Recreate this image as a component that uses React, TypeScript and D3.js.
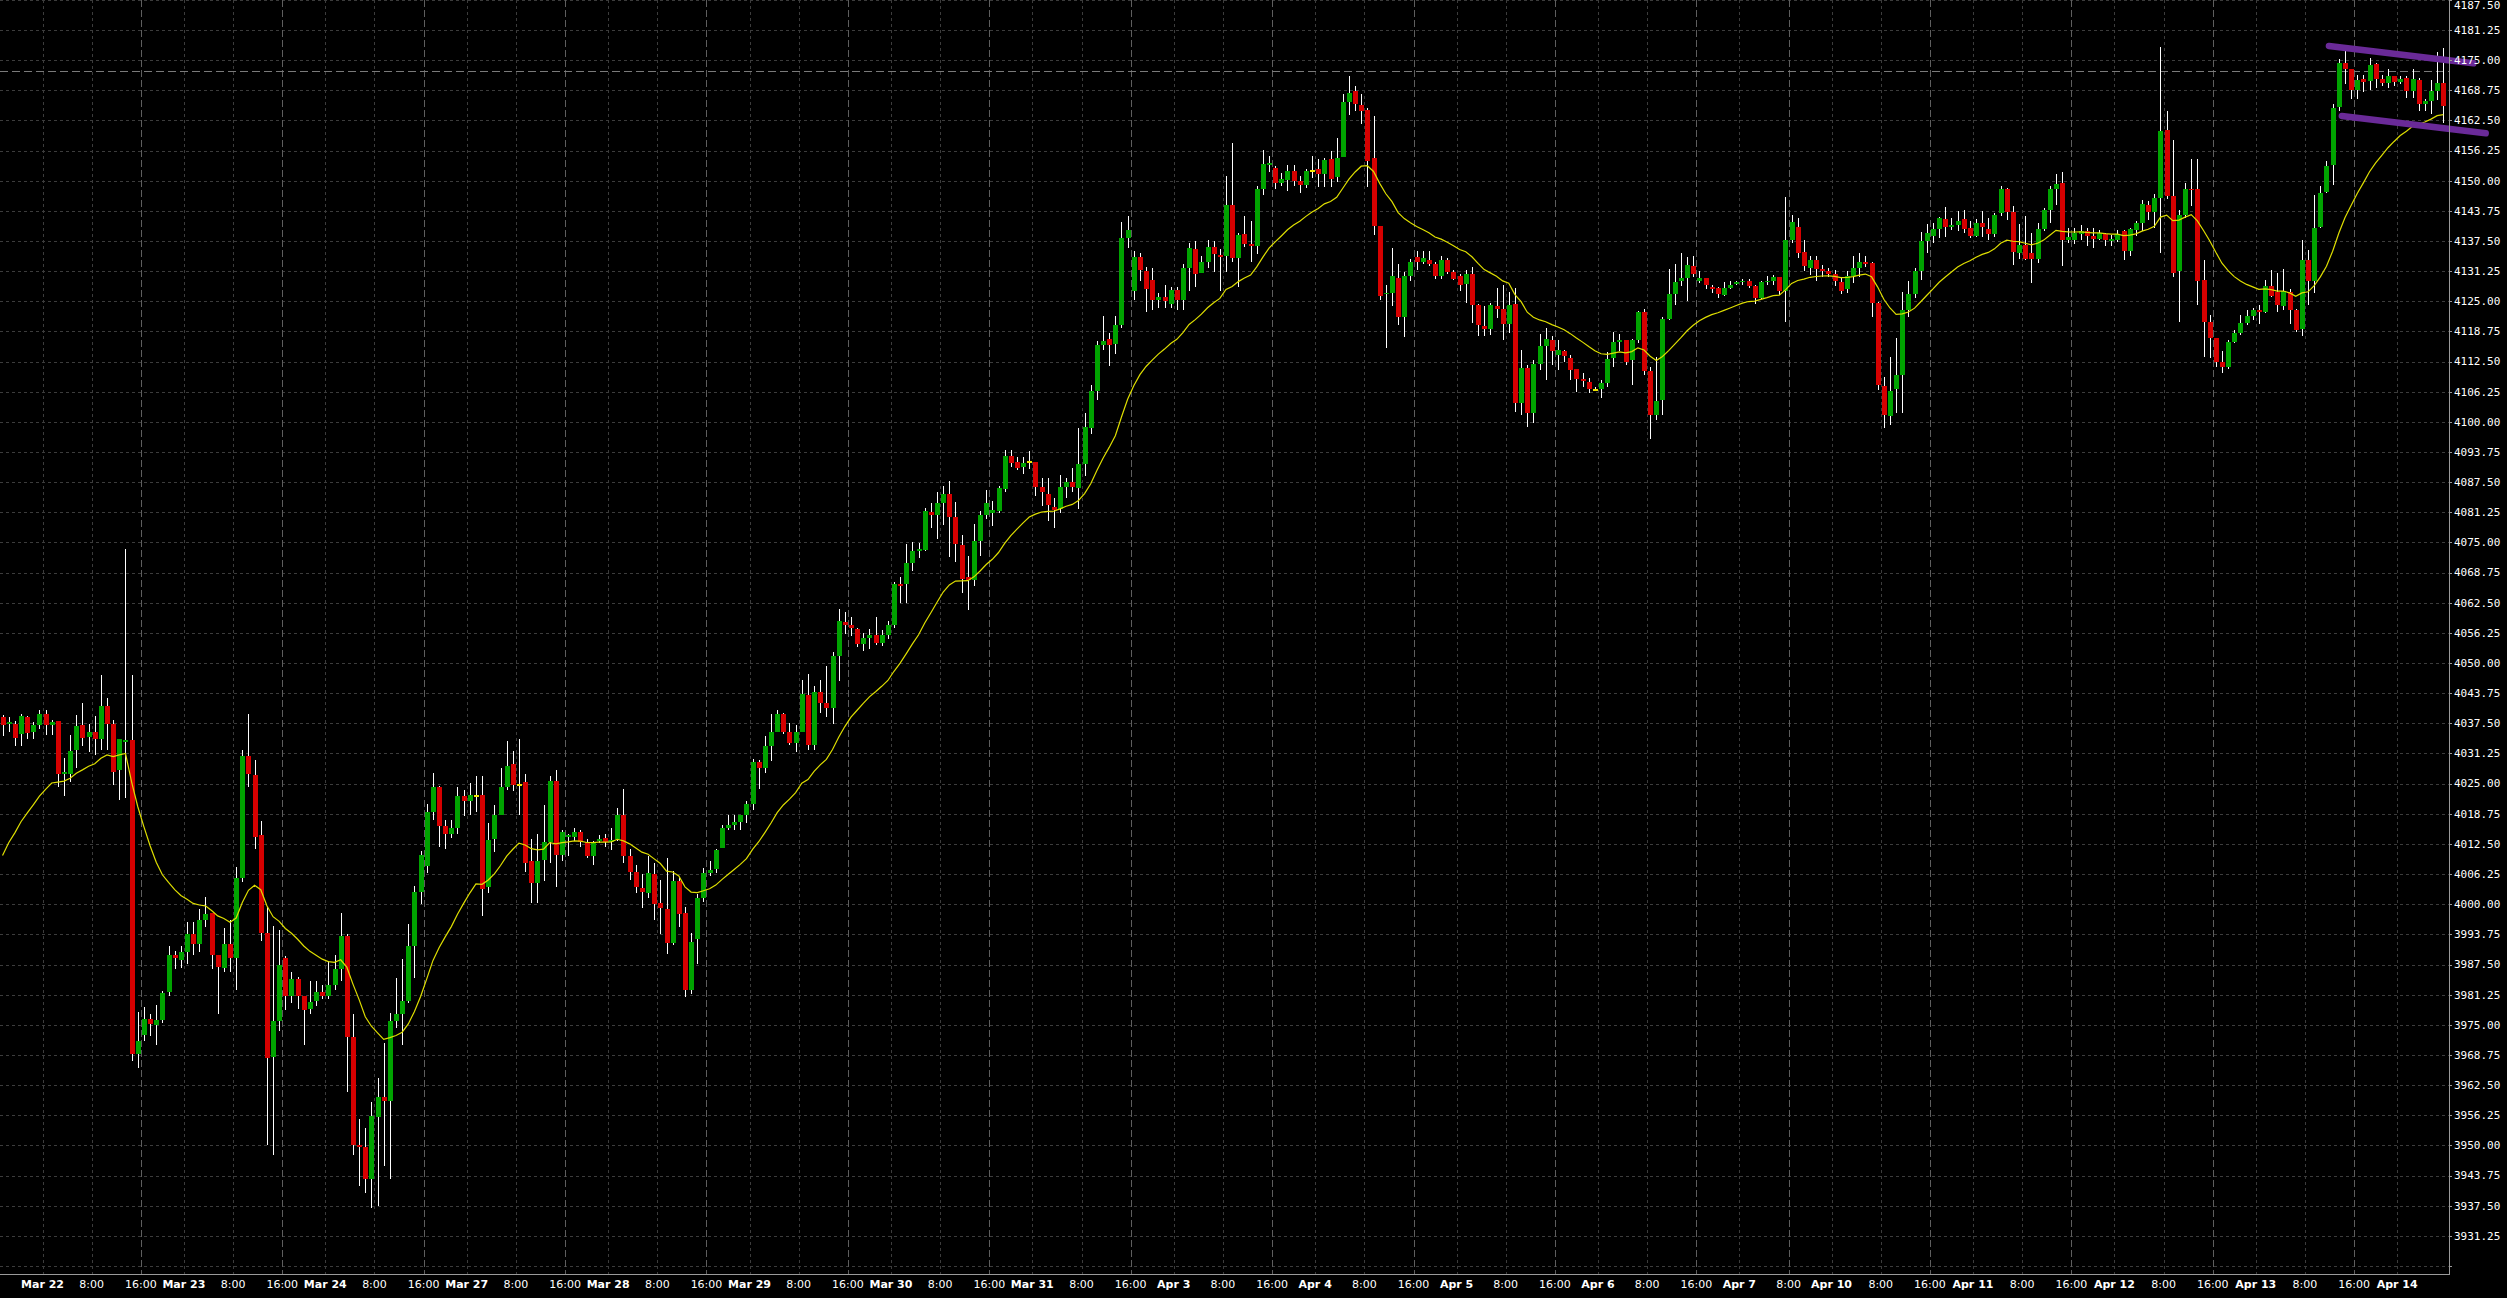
import React from 'react';
import * as d3 from 'd3';

type Bar = [number, number, number, number]; // open, high, low, close

const mar21: Bar[] = [
  [4038.8, 4039.2, 4034.9, 4037.2], [4037.4, 4038.8, 4035.8, 4037.8], [4037.4, 4038.0, 4032.7, 4034.4],
  [4035.2, 4039.4, 4032.8, 4039.0], [4038.8, 4039.0, 4034.2, 4035.6], [4035.7, 4037.7, 4034.2, 4037.2],
  [4037.2, 4040.3, 4036.3, 4039.4],
];
const mar22: Bar[] = [
  [4039.4, 4040.2, 4035.1, 4037.1], [4037.1, 4038.1, 4035.0, 4037.8], [4038.0, 4038.0, 4024.4, 4027.1],
  [4026.9, 4030.3, 4022.5, 4027.4], [4027.1, 4035.1, 4025.3, 4031.8], [4031.9, 4039.2, 4028.3, 4037.0],
  [4037.1, 4041.7, 4032.9, 4034.5], [4034.7, 4037.4, 4031.5, 4035.7], [4035.7, 4039.0, 4031.0, 4034.2],
  [4034.2, 4047.5, 4031.9, 4041.1], [4041.1, 4042.7, 4031.9, 4037.4], [4037.4, 4038.1, 4024.8, 4027.4],
  [4027.8, 4034.2, 4021.6, 4034.2], [4033.7, 4073.6, 4022.1, 4034.0], [4034.0, 4047.5, 3967.6, 3969.0],
  [3969.0, 3977.7, 3966.1, 3971.7], [3972.9, 3978.6, 3971.7, 3976.3], [3976.3, 3977.2, 3972.7, 3975.1],
  [3975.0, 3979.2, 3970.9, 3976.0], [3976.0, 3982.0, 3975.4, 3981.6], [3981.8, 3991.4, 3981.0, 3989.4],
  [3989.4, 3990.4, 3986.6, 3988.9], [3988.4, 3991.4, 3986.8, 3990.2],
];
const mar23: Bar[] = [
  [3990.2, 3996.4, 3987.7, 3993.8], [3993.8, 3996.4, 3989.5, 3991.8], [3991.8, 3999.1, 3990.2, 3996.8],
  [3996.8, 4001.4, 3995.2, 3997.9], [3998.2, 3998.2, 3986.6, 3989.5], [3989.5, 3989.5, 3977.2, 3987.0],
  [3986.8, 3995.0, 3985.9, 3991.8], [3991.8, 3996.8, 3985.9, 3988.9], [3988.9, 4007.8, 3982.2, 4005.5],
  [4005.5, 4032.0, 4004.6, 4030.8], [4030.8, 4039.4, 4024.2, 4027.1], [4026.7, 4029.8, 4011.4, 4014.0],
  [4014.3, 4017.3, 3992.3, 3994.1], [3994.1, 3999.5, 3950.0, 3968.1], [3968.4, 3995.5, 3948.1, 3975.8],
  [3975.8, 3994.6, 3973.8, 3987.4], [3988.8, 3989.3, 3978.1, 3980.9], [3980.9, 3985.9, 3979.5, 3984.5],
  [3984.5, 3985.0, 3978.3, 3980.9], [3980.9, 3981.0, 3970.8, 3978.1], [3978.3, 3984.1, 3977.2, 3979.7],
  [3979.9, 3984.1, 3979.0, 3981.8], [3981.9, 3983.2, 3980.4, 3980.9],
];
const mar24: Bar[] = [
  [3980.9, 3988.2, 3980.4, 3983.3], [3983.3, 3989.5, 3982.2, 3986.6], [3986.6, 3998.2, 3984.1, 3993.4],
  [3993.4, 3993.8, 3961.0, 3972.4], [3972.4, 3977.2, 3948.0, 3950.1], [3950.1, 3955.5, 3941.6, 3949.6],
  [3949.6, 3953.6, 3940.2, 3943.0], [3943.0, 3959.0, 3937.0, 3956.0], [3955.8, 3964.0, 3937.4, 3960.1],
  [3960.1, 3971.3, 3945.7, 3959.2], [3959.2, 3977.4, 3943.0, 3975.8], [3975.8, 3984.7, 3974.4, 3977.2],
  [3977.2, 3988.6, 3970.8, 3979.9], [3979.9, 3995.9, 3979.5, 3991.4], [3991.4, 4003.7, 3984.7, 4002.5],
  [4002.5, 4011.1, 4000.0, 4010.3], [4008.0, 4020.7, 4006.4, 4019.2], [4019.2, 4027.2, 4017.4, 4024.2],
  [4024.2, 4024.6, 4011.9, 4016.3], [4016.3, 4017.4, 4011.4, 4014.6], [4014.6, 4017.5, 4013.7, 4015.7],
  [4015.7, 4024.2, 4014.6, 4022.4], [4022.4, 4023.7, 4018.3, 4021.5],
];
const mar27: Bar[] = [
  [4021.3, 4025.1, 4018.4, 4022.6], [4022.4, 4026.5, 4019.2, 4022.4], [4022.6, 4026.6, 3997.5, 4003.2],
  [4003.5, 4016.9, 4002.3, 4013.4], [4013.5, 4020.6, 4010.9, 4018.5], [4018.5, 4028.2, 4018.4, 4024.4],
  [4024.2, 4033.8, 4023.6, 4028.6], [4029.0, 4031.7, 4023.4, 4024.8], [4024.8, 4034.3, 4018.4, 4024.8],
  [4025.3, 4026.9, 4006.6, 4008.5], [4008.9, 4013.5, 4000.3, 4004.3], [4004.3, 4014.6, 4000.3, 4009.0],
  [4009.2, 4020.6, 4004.9, 4012.8], [4012.8, 4026.6, 4008.5, 4025.6], [4025.6, 4027.8, 4003.5, 4010.2],
  [4010.2, 4015.4, 4008.9, 4015.0], [4013.9, 4014.6, 4010.0, 4014.4], [4013.9, 4015.8, 4013.1, 4015.0],
  [4015.0, 4015.4, 4011.9, 4012.9], [4012.9, 4013.5, 4009.6, 4010.0], [4010.0, 4013.1, 4008.1, 4012.7],
  [4013.2, 4014.4, 4012.7, 4013.6], [4013.7, 4014.6, 4011.9, 4012.9],
];
const mar28: Bar[] = [
  [4012.9, 4015.8, 4011.2, 4013.4], [4013.5, 4020.0, 4013.1, 4018.6], [4018.6, 4023.8, 4008.5, 4010.0],
  [4010.0, 4011.5, 4005.0, 4006.7], [4006.6, 4008.1, 4002.3, 4003.6], [4003.3, 4006.2, 3999.2, 4002.5],
  [4002.3, 4010.0, 4001.2, 4006.4], [4006.2, 4008.5, 3996.7, 4000.1], [4000.3, 4005.1, 3993.9, 3999.3],
  [3999.0, 4009.6, 3989.6, 3991.9], [3991.9, 4006.8, 3991.5, 4004.9], [4004.9, 4005.7, 3995.3, 3998.0],
  [3998.2, 3999.4, 3980.8, 3982.3], [3982.3, 3994.0, 3981.3, 3992.2], [3992.7, 4002.1, 3987.6, 4001.3],
  [4001.3, 4007.5, 4000.4, 4006.4], [4006.4, 4008.9, 4005.8, 4007.1], [4007.2, 4011.5, 4006.4, 4011.2],
  [4011.6, 4016.5, 4011.6, 4015.9], [4015.9, 4018.6, 4015.3, 4016.4], [4016.4, 4018.5, 4015.3, 4017.0],
  [4017.0, 4018.6, 4015.3, 4018.4], [4018.4, 4021.3, 4016.9, 4020.7],
];
const mar29: Bar[] = [
  [4020.7, 4030.2, 4019.6, 4029.4], [4029.4, 4030.0, 4023.8, 4028.2], [4028.2, 4034.9, 4027.3, 4032.9],
  [4032.9, 4039.5, 4029.6, 4035.7], [4035.7, 4040.3, 4035.7, 4039.4], [4039.4, 4039.7, 4035.3, 4035.7],
  [4035.7, 4037.6, 4033.0, 4033.4], [4033.4, 4037.2, 4031.5, 4035.8], [4035.8, 4046.4, 4035.7, 4043.5],
  [4043.4, 4047.7, 4031.9, 4033.0], [4033.0, 4045.3, 4032.0, 4043.9], [4043.9, 4046.4, 4039.6, 4041.7],
  [4041.7, 4049.4, 4038.8, 4040.7], [4040.7, 4052.2, 4037.3, 4051.5], [4051.5, 4061.2, 4046.3, 4058.8],
  [4058.6, 4060.6, 4056.0, 4057.9], [4057.9, 4059.6, 4055.6, 4057.2], [4057.0, 4057.2, 4053.3, 4053.9],
  [4053.9, 4056.3, 4052.4, 4055.2], [4055.2, 4057.0, 4052.9, 4055.8], [4055.8, 4059.6, 4053.7, 4054.2],
  [4054.2, 4056.8, 4053.5, 4055.8], [4055.8, 4058.7, 4054.9, 4057.9],
];
const mar30: Bar[] = [
  [4057.9, 4066.8, 4057.2, 4066.4], [4066.4, 4067.9, 4062.5, 4066.0], [4066.4, 4074.6, 4062.5, 4070.7],
  [4070.7, 4075.0, 4069.0, 4073.3], [4073.3, 4074.8, 4071.7, 4073.7], [4073.5, 4082.1, 4073.3, 4081.6],
  [4081.3, 4083.2, 4078.0, 4080.6], [4080.6, 4085.5, 4075.7, 4083.1], [4083.1, 4086.7, 4078.6, 4085.0],
  [4085.0, 4087.7, 4071.9, 4080.2], [4080.2, 4083.4, 4071.0, 4074.6], [4074.4, 4076.5, 4064.5, 4067.5],
  [4067.9, 4072.1, 4061.0, 4067.3], [4067.3, 4078.8, 4066.0, 4075.4], [4075.4, 4081.6, 4072.1, 4080.7],
  [4080.7, 4085.8, 4079.8, 4083.1], [4081.2, 4083.5, 4078.4, 4081.8], [4081.6, 4086.7, 4081.2, 4086.3],
  [4086.0, 4094.2, 4085.5, 4092.9], [4092.9, 4094.2, 4090.7, 4091.5], [4091.6, 4092.7, 4090.0, 4090.5],
  [4090.7, 4092.7, 4089.1, 4091.5], [4091.7, 4093.9, 4090.3, 4091.7],
];
const mar31: Bar[] = [
  [4091.7, 4091.7, 4084.7, 4086.6], [4086.6, 4088.3, 4082.6, 4085.5], [4085.1, 4088.3, 4079.4, 4082.7],
  [4082.4, 4084.3, 4078.0, 4081.8], [4081.9, 4088.9, 4081.2, 4086.6], [4086.6, 4088.3, 4084.3, 4087.6],
  [4087.6, 4090.5, 4085.5, 4086.6], [4086.3, 4098.8, 4081.9, 4091.2], [4091.2, 4101.8, 4088.7, 4099.0],
  [4098.8, 4107.7, 4097.4, 4106.5], [4106.4, 4116.8, 4104.6, 4115.9], [4115.9, 4122.0, 4114.9, 4116.8],
  [4117.1, 4118.4, 4111.5, 4115.9], [4116.1, 4122.0, 4114.1, 4120.0], [4120.0, 4141.4, 4119.4, 4138.1],
  [4138.1, 4142.6, 4136.0, 4139.7], [4127.2, 4135.5, 4125.2, 4134.1], [4134.1, 4135.1, 4129.1, 4131.5],
  [4131.3, 4132.1, 4122.8, 4127.6], [4129.5, 4131.9, 4123.2, 4125.3], [4125.2, 4126.7, 4123.6, 4125.8],
  [4125.8, 4128.3, 4123.6, 4125.1], [4124.4, 4127.9, 4123.6, 4127.3],
];
const apr03: Bar[] = [
  [4127.3, 4127.9, 4123.2, 4125.3], [4125.3, 4132.7, 4123.2, 4131.8], [4131.8, 4137.1, 4127.1, 4136.1],
  [4135.9, 4137.5, 4127.9, 4130.7], [4130.8, 4134.3, 4130.8, 4133.1], [4133.1, 4137.6, 4131.9, 4136.3],
  [4136.3, 4137.5, 4131.1, 4134.7], [4134.5, 4135.9, 4127.2, 4134.1], [4134.3, 4150.9, 4131.1, 4145.0],
  [4145.0, 4157.9, 4133.1, 4133.9], [4133.9, 4139.1, 4127.9, 4138.7], [4138.9, 4142.6, 4136.3, 4136.8],
  [4136.8, 4141.6, 4133.1, 4136.4], [4136.5, 4148.8, 4134.9, 4148.2], [4148.2, 4156.3, 4147.0, 4153.5],
  [4153.2, 4155.2, 4151.7, 4153.6], [4152.7, 4153.1, 4148.2, 4149.5], [4149.5, 4151.6, 4149.0, 4150.3],
  [4150.1, 4153.3, 4147.9, 4152.1], [4152.1, 4153.3, 4149.0, 4150.0], [4150.0, 4151.0, 4147.4, 4149.2],
  [4149.1, 4152.5, 4148.4, 4152.1], [4152.1, 4155.1, 4150.6, 4152.1],
];
const apr04: Bar[] = [
  [4152.5, 4154.5, 4148.6, 4151.3], [4151.3, 4154.7, 4148.6, 4154.3], [4154.5, 4156.1, 4148.6, 4150.3],
  [4150.8, 4158.9, 4149.8, 4154.7], [4154.9, 4168.0, 4154.9, 4166.4], [4166.4, 4171.8, 4163.6, 4168.2],
  [4168.6, 4169.6, 4164.4, 4165.9], [4165.6, 4168.0, 4161.7, 4164.4], [4164.6, 4165.1, 4148.6, 4154.1],
  [4154.7, 4163.4, 4138.7, 4140.6], [4140.6, 4140.6, 4125.2, 4126.0], [4126.5, 4128.3, 4115.4, 4126.8],
  [4126.8, 4136.1, 4124.0, 4130.2], [4129.9, 4132.7, 4120.0, 4121.8], [4121.8, 4131.1, 4117.5, 4130.3],
  [4130.3, 4133.7, 4129.1, 4133.1], [4134.1, 4135.5, 4131.5, 4133.1], [4133.1, 4135.5, 4132.7, 4133.9],
  [4133.6, 4135.5, 4132.3, 4132.7], [4132.7, 4133.1, 4129.7, 4130.2], [4130.2, 4134.3, 4129.7, 4133.6],
  [4133.6, 4133.9, 4130.7, 4131.1], [4131.1, 4131.5, 4129.5, 4129.7],
];
const apr05: Bar[] = [
  [4130.2, 4130.7, 4127.2, 4128.4], [4128.6, 4131.5, 4124.6, 4130.7], [4130.7, 4132.1, 4120.4, 4124.3],
  [4124.3, 4124.4, 4117.7, 4120.0], [4119.8, 4124.0, 4117.7, 4119.3], [4119.3, 4124.6, 4118.0, 4124.3],
  [4124.1, 4127.7, 4121.5, 4123.4], [4123.4, 4128.4, 4116.9, 4120.3], [4120.3, 4127.0, 4118.4, 4124.3],
  [4124.5, 4127.7, 4102.1, 4103.9], [4103.9, 4114.8, 4101.4, 4111.1], [4111.1, 4111.8, 4099.0, 4101.8],
  [4101.9, 4112.8, 4099.8, 4111.9], [4111.9, 4118.2, 4110.7, 4115.7], [4115.7, 4119.4, 4108.7, 4117.1],
  [4117.0, 4117.8, 4111.8, 4114.6], [4113.8, 4116.9, 4110.8, 4114.9], [4114.6, 4114.9, 4112.5, 4113.6],
  [4113.2, 4113.9, 4108.7, 4110.8], [4110.9, 4110.9, 4106.1, 4108.8], [4108.8, 4110.1, 4107.3, 4108.4],
  [4108.3, 4109.0, 4105.9, 4106.8], [4106.7, 4107.3, 4106.3, 4106.7],
];
const apr06: Bar[] = [
  [4106.8, 4108.6, 4104.9, 4108.0], [4108.1, 4114.4, 4107.3, 4113.0], [4113.3, 4118.7, 4111.3, 4116.6],
  [4116.6, 4118.2, 4114.6, 4117.0], [4116.9, 4117.0, 4111.8, 4112.5], [4112.9, 4117.1, 4107.7, 4116.9],
  [4116.9, 4123.0, 4116.3, 4122.7], [4122.7, 4123.4, 4109.7, 4110.6], [4110.6, 4111.3, 4096.4, 4101.4],
  [4101.5, 4113.5, 4100.4, 4104.4], [4104.6, 4121.8, 4101.4, 4121.3], [4121.3, 4131.6, 4121.1, 4126.5],
  [4126.5, 4132.7, 4124.3, 4129.0], [4129.3, 4135.1, 4128.1, 4129.9], [4129.9, 4134.1, 4125.1, 4132.6],
  [4132.4, 4134.3, 4130.1, 4130.7], [4129.1, 4131.2, 4128.8, 4129.8], [4129.9, 4129.9, 4127.5, 4128.4],
  [4128.0, 4128.4, 4126.7, 4127.6], [4127.7, 4127.9, 4125.6, 4126.5], [4126.3, 4128.9, 4126.0, 4127.7],
  [4127.8, 4129.1, 4127.5, 4128.4], [4128.6, 4129.3, 4128.3, 4128.9],
];
const apr07: Bar[] = [
  [4129.0, 4129.7, 4128.3, 4129.3], [4129.1, 4129.7, 4127.7, 4128.1], [4128.1, 4128.4, 4124.5, 4125.7],
  [4125.7, 4129.1, 4125.4, 4128.9], [4129.0, 4130.3, 4128.3, 4129.3], [4129.3, 4130.4, 4128.3, 4130.1],
  [4130.1, 4130.1, 4126.3, 4127.1], [4127.1, 4146.7, 4120.8, 4137.7], [4137.7, 4142.9, 4137.0, 4141.5],
  [4140.4, 4142.2, 4133.9, 4135.1], [4135.3, 4137.7, 4131.2, 4132.3], [4132.0, 4134.3, 4130.5, 4133.6],
  [4133.6, 4134.3, 4129.3, 4131.7], [4131.7, 4132.6, 4130.1, 4131.2], [4131.2, 4131.9, 4130.1, 4130.7],
];
const apr10: Bar[] = [
  [4130.7, 4131.5, 4128.1, 4129.1], [4129.0, 4130.1, 4126.5, 4127.2], [4127.6, 4131.2, 4126.7, 4130.3],
  [4130.3, 4134.3, 4128.8, 4132.0], [4132.0, 4135.1, 4130.1, 4133.2], [4133.2, 4134.4, 4132.2, 4132.8],
  [4132.9, 4133.1, 4121.8, 4124.6], [4124.6, 4124.9, 4106.6, 4107.7], [4107.5, 4109.4, 4098.7, 4101.5],
  [4101.3, 4113.5, 4099.4, 4106.4], [4106.9, 4117.4, 4101.9, 4109.8], [4109.8, 4126.9, 4101.9, 4123.2],
  [4123.2, 4129.3, 4121.8, 4126.5], [4126.5, 4131.9, 4125.6, 4131.2], [4131.2, 4139.3, 4129.5, 4137.5],
  [4137.5, 4141.0, 4135.0, 4139.1], [4138.5, 4141.2, 4137.0, 4139.9], [4139.9, 4142.4, 4138.1, 4142.2],
  [4142.0, 4144.5, 4138.3, 4140.5], [4140.5, 4142.2, 4139.8, 4140.8], [4140.8, 4143.8, 4139.5, 4141.7],
  [4142.1, 4143.9, 4139.1, 4140.0], [4140.2, 4141.6, 4138.1, 4138.6],
];
const apr11: Bar[] = [
  [4138.6, 4142.0, 4138.3, 4141.2], [4141.2, 4143.8, 4138.4, 4140.3], [4140.0, 4142.3, 4137.6, 4139.0],
  [4139.0, 4143.4, 4138.3, 4142.9], [4143.3, 4149.0, 4142.6, 4148.2], [4148.2, 4148.5, 4141.9, 4143.6],
  [4143.6, 4144.8, 4132.6, 4135.3], [4135.1, 4141.1, 4133.7, 4136.7], [4136.7, 4142.6, 4133.6, 4133.7],
  [4135.0, 4139.2, 4128.8, 4133.7], [4133.7, 4141.2, 4132.9, 4140.0], [4140.0, 4144.3, 4139.5, 4144.0],
  [4144.0, 4149.0, 4141.2, 4148.2], [4148.2, 4151.3, 4145.0, 4149.4], [4149.5, 4151.8, 4132.4, 4137.6],
  [4137.8, 4140.2, 4137.1, 4138.3], [4137.6, 4140.2, 4136.9, 4139.1], [4139.0, 4140.9, 4137.8, 4139.5],
  [4139.5, 4140.2, 4136.4, 4138.6], [4138.6, 4140.2, 4136.0, 4138.0], [4138.0, 4139.8, 4137.8, 4139.1],
  [4139.0, 4139.1, 4136.4, 4137.6], [4137.4, 4138.8, 4136.4, 4137.9],
];
const apr12: Bar[] = [
  [4137.8, 4139.7, 4137.2, 4139.0], [4139.6, 4139.7, 4133.6, 4135.5], [4135.5, 4140.2, 4134.3, 4140.0],
  [4139.8, 4141.6, 4138.5, 4141.2], [4141.2, 4146.0, 4139.5, 4145.1], [4144.9, 4145.7, 4141.9, 4143.6],
  [4143.6, 4147.2, 4140.2, 4146.5], [4146.5, 4177.8, 4135.0, 4160.4], [4160.6, 4164.4, 4146.1, 4146.8],
  [4146.8, 4158.5, 4130.1, 4130.8], [4131.2, 4144.0, 4120.8, 4142.8], [4142.8, 4149.5, 4142.3, 4148.3],
  [4148.3, 4154.5, 4144.7, 4148.0], [4148.2, 4154.5, 4124.2, 4129.3], [4129.4, 4133.6, 4113.5, 4120.8],
  [4120.8, 4122.2, 4113.2, 4117.3], [4117.3, 4117.3, 4111.3, 4112.5], [4112.5, 4114.6, 4110.1, 4111.4],
  [4111.4, 4117.0, 4110.9, 4116.6], [4116.6, 4119.1, 4116.3, 4118.4], [4118.4, 4122.2, 4118.0, 4120.4],
  [4120.4, 4123.2, 4120.0, 4121.9], [4121.9, 4123.6, 4121.2, 4123.2],
];
const apr13: Bar[] = [
  [4123.2, 4124.3, 4120.3, 4122.7], [4122.7, 4129.5, 4122.5, 4128.2], [4128.2, 4131.4, 4125.9, 4126.1],
  [4127.0, 4130.9, 4122.7, 4124.3], [4124.0, 4131.6, 4123.2, 4127.2], [4127.0, 4127.5, 4120.3, 4123.1],
  [4123.1, 4123.4, 4118.7, 4119.1], [4119.2, 4137.8, 4117.7, 4133.6], [4133.6, 4135.7, 4124.3, 4129.1],
  [4129.1, 4147.1, 4126.7, 4140.2], [4140.5, 4148.8, 4140.2, 4147.5], [4147.6, 4154.0, 4147.5, 4153.1],
  [4153.3, 4165.8, 4149.2, 4165.1], [4165.3, 4175.3, 4164.4, 4174.3], [4174.5, 4176.9, 4170.0, 4173.1],
  [4173.2, 4173.2, 4166.9, 4168.9], [4168.9, 4172.0, 4166.9, 4170.9], [4171.0, 4172.0, 4168.4, 4170.5],
  [4170.7, 4175.5, 4168.8, 4173.9], [4174.1, 4174.3, 4169.3, 4171.0], [4171.0, 4172.0, 4169.6, 4170.3],
  [4170.3, 4173.1, 4169.3, 4171.7], [4171.6, 4171.8, 4169.6, 4170.5],
];
const apr14: Bar[] = [
  [4170.5, 4171.6, 4170.0, 4171.0], [4171.3, 4171.6, 4167.2, 4168.6], [4168.6, 4173.1, 4167.2, 4171.0],
  [4170.8, 4171.3, 4164.4, 4165.8], [4165.8, 4167.0, 4164.4, 4166.5], [4166.5, 4170.8, 4163.9, 4168.6],
  [4168.6, 4176.7, 4166.8, 4170.3], [4170.3, 4177.6, 4162.0, 4165.5],
];

// trading days: label, bars, slot of first bar, slot of session-start (major) line
const days = [
  { label: 'Mar 21', bars: mar21, first: 16, major: 16 },
  { label: 'Mar 22', bars: mar22, first: 0, major: 16 },
  { label: 'Mar 23', bars: mar23, first: 0, major: 16 },
  { label: 'Mar 24', bars: mar24, first: 0, major: 16 },
  { label: 'Mar 27', bars: mar27, first: 0, major: 16 },
  { label: 'Mar 28', bars: mar28, first: 0, major: 16 },
  { label: 'Mar 29', bars: mar29, first: 0, major: 16 },
  { label: 'Mar 30', bars: mar30, first: 0, major: 16 },
  { label: 'Mar 31', bars: mar31, first: 0, major: 16 },
  { label: 'Apr 3', bars: apr03, first: 0, major: 16 },
  { label: 'Apr 4', bars: apr04, first: 0, major: 16 },
  { label: 'Apr 5', bars: apr05, first: 0, major: 16 },
  { label: 'Apr 6', bars: apr06, first: 0, major: 16 },
  { label: 'Apr 7', bars: apr07, first: 0, major: 8 },
  { label: 'Apr 10', bars: apr10, first: 0, major: 16 },
  { label: 'Apr 11', bars: apr11, first: 0, major: 16 },
  { label: 'Apr 12', bars: apr12, first: 0, major: 16 },
  { label: 'Apr 13', bars: apr13, first: 0, major: 16 },
  { label: 'Apr 14', bars: apr14, first: 0, major: 16 },
];
const timeSlots = [
  { slot: 8, text: '8:00' },
  { slot: 16, text: '16:00' },
];

const emaSeed = 4010.1; // moving average value at the first visible bar
const emaPeriod = 20;
const refLevel = 4172.75;
const upperTrend: [number, number][] = [[371.9, 4177.92], [395.4, 4174.33]];
const lowerTrend: [number, number][] = [[374.0, 4163.41], [397.4, 4159.82]];
const priceTickStep = 6.25;

export default function App() {
  const W = 2507;
  const H = 1298;
  const plotR = 2449;
  const plotB = 1274;

  const x = d3.scaleLinear().domain([0, 383]).range([42.5, 42.5 + 383 * 6.148]);
  const y = d3.scaleLinear().domain([3925, 4187.5]).range([1266.0, -0.2]);

  type G = { i: number; b: Bar };
  const bars: G[] = [];
  const grid: { gi: number; major: boolean; text: string; bold: boolean }[] = [];
  let gi = -7;
  days.forEach((d) => {
    const base = gi - d.first;
    const last = d.first + d.bars.length - 1;
    if (d.first === 0) grid.push({ gi: base, major: false, text: d.label, bold: true });
    timeSlots.forEach((t) => {
      if (t.slot >= d.first && t.slot <= last) {
        grid.push({ gi: base + t.slot, major: t.slot === d.major, text: t.text, bold: false });
      }
    });
    d.bars.forEach((b) => {
      bars.push({ i: gi, b });
      gi += 1;
    });
  });

  const alpha = 2 / (emaPeriod + 1);
  const ema: [number, number][] = [];
  let e = emaSeed;
  bars.forEach((g, k) => {
    if (k > 0) e = e + alpha * (g.b[3] - e);
    ema.push([g.i, e]);
  });
  const maPath = d3.line<[number, number]>()
    .x((d) => x(d[0] + 0.5))
    .y((d) => y(d[1]))(ema) || '';

  const priceTicks = d3.range(0, 43).map((k) => 3925 + k * priceTickStep);

  const up = '#00a300';
  const down = '#d60000';

  const trendLine = d3.line<[number, number]>().x((d) => x(d[0])).y((d) => y(d[1]));

  return (
    <svg width={W} height={H} style={{ position: 'absolute', left: 0, top: 0, background: '#000' }}>
      <rect x={0} y={0} width={W} height={H} fill="#000" />
      <g shapeRendering="crispEdges">
        {priceTicks.map((p) => (
          <line key={'h' + p} x1={0} x2={plotR} y1={Math.round(y(p)) + 0.5} y2={Math.round(y(p)) + 0.5}
            stroke="#3c3c3c" strokeDasharray="3,3" />
        ))}
        {grid.map((g, k) => {
          const gx = Math.round(x(g.gi)) + 0.5;
          return (
            <line key={'v' + k} x1={gx} x2={gx} y1={0} y2={plotB}
              stroke={g.major ? '#5e5e5e' : '#3c3c3c'} strokeDasharray={g.major ? '7,3' : '3,3'} />
          );
        })}
        <line x1={0} x2={plotR} y1={Math.round(y(refLevel)) + 0.5} y2={Math.round(y(refLevel)) + 0.5}
          stroke="#7a7a7a" strokeDasharray="8,4" />
      </g>
      <g shapeRendering="crispEdges">
        {bars.map((g) => {
          const [o, h, l, c] = g.b;
          const cx = Math.round(x(g.i + 0.5));
          const top = y(Math.max(o, c));
          const bot = y(Math.min(o, c));
          const doji = o === c;
          return (
            <g key={g.i}>
              <line x1={cx + 0.5} x2={cx + 0.5} y1={Math.round(y(h))} y2={Math.round(y(l))} stroke="#ffffff" />
              {doji ? (
                <rect x={cx - 2} y={Math.round(top) - 1} width={5} height={2} fill="#f2e600" />
              ) : (
                <rect x={cx - 2} y={Math.round(top)} width={5} height={Math.max(1, Math.round(bot) - Math.round(top))}
                  fill={c > o ? up : down} />
              )}
            </g>
          );
        })}
      </g>
      <path d={maPath} fill="none" stroke="#dede00" strokeWidth={1.2} />
      <path d={trendLine(upperTrend) || ''} fill="none" stroke="#6a2a98" strokeWidth={6.5} strokeLinecap="round" />
      <path d={trendLine(lowerTrend) || ''} fill="none" stroke="#6a2a98" strokeWidth={6.5} strokeLinecap="round" />
      <g shapeRendering="crispEdges">
        <line x1={plotR + 0.5} x2={plotR + 0.5} y1={0} y2={plotB + 1} stroke="#9a9a9a" />
        <line x1={0} x2={plotR + 1} y1={plotB + 0.5} y2={plotB + 0.5} stroke="#9a9a9a" />
        {priceTicks.map((p) => (
          <line key={'t' + p} x1={plotR} x2={plotR + 3} y1={Math.round(y(p)) + 0.5} y2={Math.round(y(p)) + 0.5} stroke="#9a9a9a" />
        ))}
      </g>
      {priceTicks.filter((p) => p > 3926).map((p) => (
        <text key={'l' + p} x={2454} y={Math.max(y(p), 5)} dy="0.35em" fill="#ffffff"
          style={{ font: "11px 'DejaVu Sans Mono', monospace" }}>
          {p.toFixed(2)}
        </text>
      ))}
      {grid.filter((g) => x(g.gi) > 15).map((g, k) => (
        <text key={'x' + k} x={x(g.gi)} y={1288} textAnchor="middle" fill="#ffffff"
          style={{ font: (g.bold ? 'bold ' : '') + "11px 'DejaVu Sans', sans-serif" }}>
          {g.text}
        </text>
      ))}
    </svg>
  );
}
